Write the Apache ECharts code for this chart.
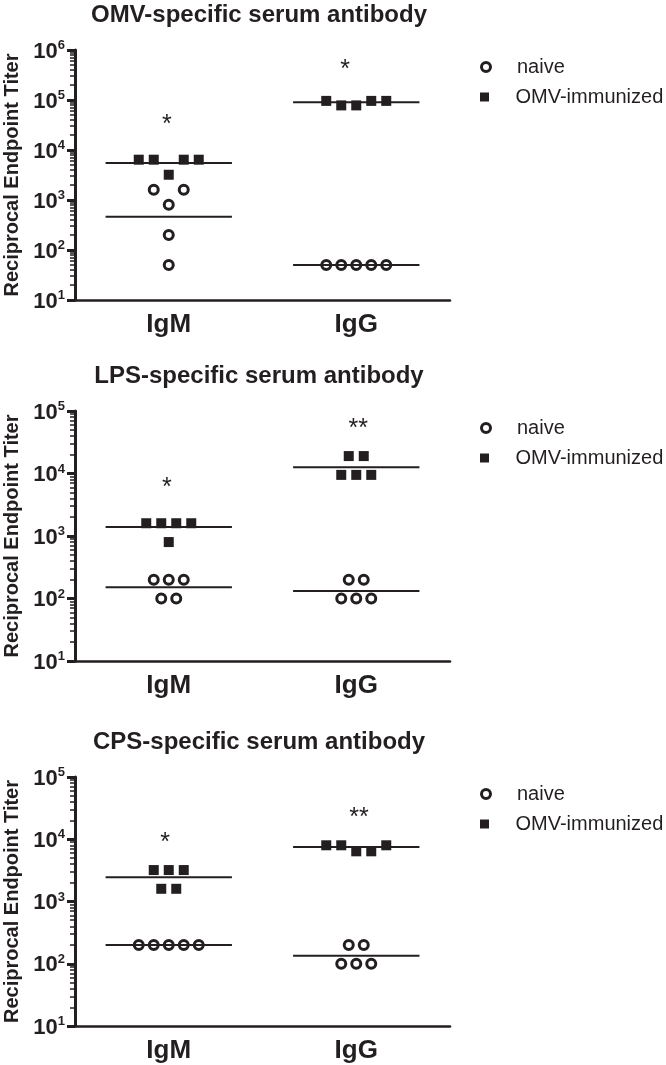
<!DOCTYPE html>
<html><head><meta charset="utf-8">
<script src="https://cdn.jsdelivr.net/npm/echarts@6/dist/echarts.min.js"></script>
<style>html,body{margin:0;padding:0;background:#fff}#c{width:666px;height:1065px}</style>
</head><body><div id="c"></div>
<script>
// ---------- DATA ----------
const categories = ['IgM', 'IgG'];
const panelTitles = ['OMV-specific serum antibody', 'LPS-specific serum antibody', 'CPS-specific serum antibody'];
const legendNames = ['naive', 'OMV-immunized'];
const yAxisName = 'Reciprocal Endpoint Titer';

const yTicksOMV = [10, 100, 1000, 10000, 100000, 1000000];
const yTicksLPS = [10, 100, 1000, 10000, 100000];
const yTicksCPS = [10, 100, 1000, 10000, 100000];

// OMV-specific
const omvIgMNaive = [1600, 1600, 800, 200, 50];
const omvIgMImmun = [6400, 6400, 3200, 6400, 6400];
const omvIgGNaive = [50, 50, 50, 50, 50];
const omvIgGImmun = [96000, 78000, 78000, 96000, 96000];
const omvMeanNaive = [460, 50];
const omvMeanImmun = [5500, 90000];
const omvStars = ['*', '*'];
const omvStarY = [43600, 550000];

// LPS-specific
const lpsIgMNaive = [200, 200, 200, 100, 100];
const lpsIgMImmun = [1600, 1600, 1600, 1600, 800];
const lpsIgGNaive = [200, 200, 100, 100, 100];
const lpsIgGImmun = [19000, 19000, 9500, 9500, 9500];
const lpsMeanNaive = [151, 132];
const lpsMeanImmun = [1390, 12600];
const lpsStars = ['*', '**'];
const lpsStarY = [7670, 67400];

// CPS-specific
const cpsIgMNaive = [200, 200, 200, 200, 200];
const cpsIgMImmun = [3200, 3200, 3200, 1600, 1600];
const cpsIgGNaive = [200, 200, 100, 100, 100];
const cpsIgGImmun = [8000, 8000, 6400, 6400, 8000];
const cpsMeanNaive = [200, 134];
const cpsMeanImmun = [2450, 7520];
const cpsStars = ['*', '**'];
const cpsStarY = [11300, 28500];

// ---------- LAYOUT (jitter slots, positions, styles) ----------
const jitter = {
  omv: { mN: [-1, 1, 0, 0, 0], mI: [-2, -1, 0, 1, 2], gN: [-2, -1, 0, 1, 2], gI: [-2, -1, 0, 1, 2], star: [-0.01, -0.06] },
  lps: { mN: [-1, 0, 1, -0.5, 0.5], mI: [-1.5, -0.5, 0.5, 1.5, 0], gN: [-0.5, 0.5, -1, 0, 1], gI: [-0.5, 0.5, -1, 0, 1], star: [-0.01, 0.01] },
  cps: { mN: [-2, -1, 0, 1, 2], mI: [-1, 0, 1, -0.5, 0.5], gN: [-0.5, 0.5, -1, 0, 1], gI: [-2, -1, 0, 1, 2], star: [-0.02, 0.015] }
};
const SLOT = 0.08;      // jitter step in category units
const HALF = 0.337;     // half width of mean line
const INK = '#231f20';

const panels = [
  { key: 'omv', top: 50, height: 250, ticks: yTicksOMV, mN: omvIgMNaive, mI: omvIgMImmun, gN: omvIgGNaive, gI: omvIgGImmun, meanN: omvMeanNaive, meanI: omvMeanImmun, stars: omvStars, starY: omvStarY },
  { key: 'lps', top: 411, height: 250, ticks: yTicksLPS, mN: lpsIgMNaive, mI: lpsIgMImmun, gN: lpsIgGNaive, gI: lpsIgGImmun, meanN: lpsMeanNaive, meanI: lpsMeanImmun, stars: lpsStars, starY: lpsStarY },
  { key: 'cps', top: 777, height: 249, ticks: yTicksCPS, mN: cpsIgMNaive, mI: cpsIgMImmun, gN: cpsIgGNaive, gI: cpsIgGImmun, meanN: cpsMeanNaive, meanI: cpsMeanImmun, stars: cpsStars, starY: cpsStarY }
];

function minorTicks(ticks) {
  const out = [];
  for (let i = 0; i < ticks.length - 1; i++) {
    for (let k = 2; k <= 9; k++) out.push(ticks[i] * k);
  }
  return out;
}

const option = { animation: false, title: [], grid: [], xAxis: [], yAxis: [], legend: [], series: [] };

panels.forEach((p, i) => {
  const j = jitter[p.key];
  option.title.push({
    text: panelTitles[i], left: 259, top: p.top - 47, textAlign: 'center', padding: 0,
    textStyle: { fontFamily: 'Liberation Sans', fontWeight: 'bold', fontSize: 24, color: INK }
  });
  option.grid.push({ left: 75, top: p.top, width: 375, height: p.height, containLabel: false, outerBoundsMode: 'none' });
  option.xAxis.push({
    type: 'category', gridIndex: i, data: categories, boundaryGap: true, position: 'bottom',
    axisLine: { onZero: false, lineStyle: { color: INK, width: 2.5 } }, axisTick: { show: false },
    axisLabel: { margin: 12, fontFamily: 'Liberation Sans', fontWeight: 'bold', fontSize: 26, color: INK },
    splitLine: { show: false }
  });
  option.xAxis.push({ type: 'value', gridIndex: i, min: -0.5, max: 1.5, show: false, position: 'bottom', axisLine: { onZero: false }, splitLine: { show: false } });
  option.yAxis.push({
    type: 'log', gridIndex: i, position: 'left', min: p.ticks[0], max: p.ticks[p.ticks.length - 1],
    name: yAxisName, nameLocation: 'middle', nameGap: 52,
    nameTextStyle: { fontFamily: 'Liberation Sans', fontWeight: 'bold', fontSize: 20, color: INK },
    axisLine: { show: true, onZero: false, lineStyle: { color: INK, width: 3 } },
    axisTick: { show: true, length: 8, lineStyle: { color: INK, width: 3 }, customValues: p.ticks },
    axisLabel: {
      customValues: p.ticks, margin: 10,
      formatter: v => '{b|10}{s|' + Math.round(Math.log10(v)) + '}',
      rich: {
        b: { fontFamily: 'Liberation Sans', fontWeight: 'bold', fontSize: 22, color: INK, lineHeight: 22, padding: [3, 0, 0, 0] },
        s: { fontFamily: 'Liberation Sans', fontWeight: 'bold', fontSize: 13, color: INK, lineHeight: 13, verticalAlign: 'top' }
      }
    },
    splitLine: { show: false }
  });
  option.yAxis.push({
    type: 'log', gridIndex: i, position: 'left', offset: 0, min: p.ticks[0], max: p.ticks[p.ticks.length - 1],
    axisLine: { show: false, onZero: false },
    axisTick: { show: true, length: 5, lineStyle: { color: INK, width: 1.5 }, customValues: minorTicks(p.ticks) },
    axisLabel: { show: false }, splitLine: { show: false }
  });

  const xa = 2 * i + 1, ya = 2 * i;
  const pts = (vals, slots, cat) => vals.map((v, k) => [cat + slots[k] * SLOT, v]);

  option.series.push({
    name: legendNames[0], type: 'scatter', xAxisIndex: xa, yAxisIndex: ya, z: 2,
    symbol: 'circle', symbolSize: 9,
    itemStyle: { color: '#fff', borderColor: INK, borderWidth: 3, opacity: 1 },
    data: pts(p.mN, j.mN, 0).concat(pts(p.gN, j.gN, 1))
  });
  option.series.push({
    name: legendNames[1], type: 'scatter', xAxisIndex: xa, yAxisIndex: ya, z: 2,
    symbol: 'rect', symbolSize: 10,
    itemStyle: { color: INK, opacity: 1 },
    data: pts(p.mI, j.mI, 0).concat(pts(p.gI, j.gI, 1))
  });
  option.series.push({
    type: 'custom', xAxisIndex: xa, yAxisIndex: ya, z: 3, silent: true,
    data: [[0, p.meanN[0]], [1, p.meanN[1]], [0, p.meanI[0]], [1, p.meanI[1]]],
    renderItem: (params, api) => {
      const a = api.coord([api.value(0) - HALF, api.value(1)]);
      const b = api.coord([api.value(0) + HALF, api.value(1)]);
      return { type: 'line', shape: { x1: a[0], y1: a[1], x2: b[0], y2: b[1] }, style: { stroke: INK, lineWidth: 2 } };
    }
  });
  option.series.push({
    type: 'custom', xAxisIndex: xa, yAxisIndex: ya, z: 3, silent: true,
    data: [[0 + j.star[0], p.starY[0]], [1 + j.star[1], p.starY[1]]],
    renderItem: (params, api) => {
      const c = api.coord([api.value(0), api.value(1)]);
      return { type: 'text', x: c[0], y: c[1] + 7, style: { text: p.stars[params.dataIndex], fill: INK, font: '25px "Liberation Sans"', textAlign: 'center', textVerticalAlign: 'middle' } };
    }
  });
  option.legend.push({
    data: [{ name: legendNames[0], icon: 'circle' }], left: 480, top: p.top + 17 - 10, padding: 0,
    itemWidth: 52, itemHeight: 9, selectedMode: false,
    itemStyle: { color: '#fff', borderColor: INK, borderWidth: 3 },
    textStyle: { fontFamily: 'Liberation Sans', fontSize: 20, color: INK }
  });
  option.legend.push({
    data: [{ name: legendNames[1], icon: 'path://M0,0h10v10h-10z' }], left: 480, top: p.top + 47 - 10, padding: 0,
    itemWidth: 52, itemHeight: 9, selectedMode: false,
    itemStyle: { color: INK, borderWidth: 0 },
    textStyle: { fontFamily: 'Liberation Sans', fontSize: 20, color: INK }
  });
});

const chart = echarts.init(document.getElementById('c'), null, { renderer: 'canvas' });
chart.setOption(option);
</script>
</body></html>
